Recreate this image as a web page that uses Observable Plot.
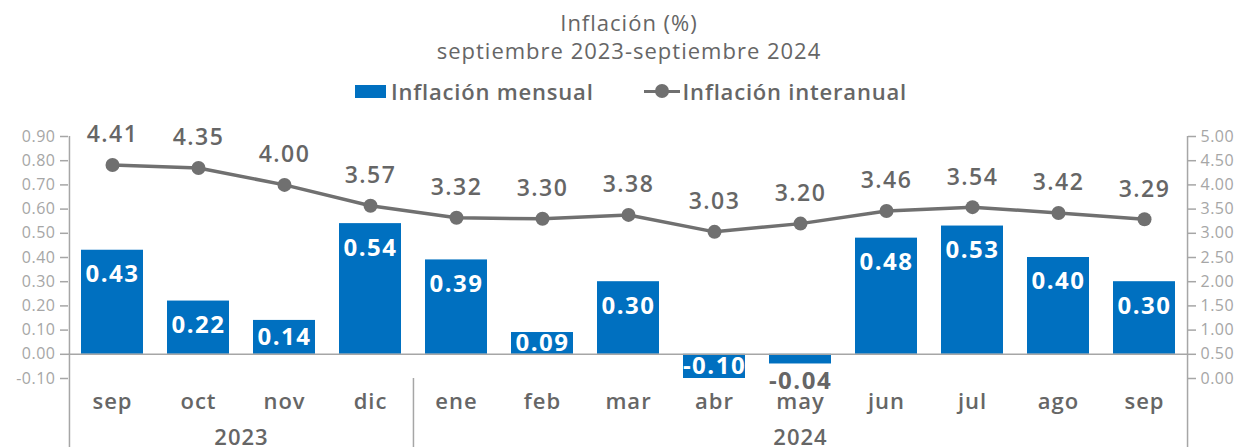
<!DOCTYPE html>
<html>
<head>
<meta charset="utf-8">
<script src="https://cdn.jsdelivr.net/npm/d3@7"></script>
<script src="https://cdn.jsdelivr.net/npm/@observablehq/plot@0.6"></script>
<style>
  body { margin: 0; background: #fff; font-family: "Open Sans", sans-serif; color: #666; }
  #wrap { width: 1244px; height: 447px; overflow: hidden; }
  .title { text-align: center; font-size: 22px; line-height: 28px; padding-left: 14px; letter-spacing: 1px; }
  .t1 { padding-top: 8px; }
  .legend { display: flex; justify-content: center; align-items: center; margin-top: 13px; height: 28px; font-size: 22px; font-weight: 600; padding-left: 18px; letter-spacing: 0.8px; }
  .sw-bar { width: 31px; height: 13px; background: #0070C0; margin-right: 5px; }
  .sw-line { position: relative; width: 36px; height: 14px; margin-left: 50px; margin-right: 3px; }
  .sw-line::before { content: ""; position: absolute; left: 0; right: 0; top: 5.5px; height: 3.5px; background: #707070; }
  .sw-line::after { content: ""; position: absolute; left: 11px; top: 0; width: 14px; height: 14px; border-radius: 50%; background: #707070; }
  svg { display: block; margin-top: 5px; }
  .lbl-line text { letter-spacing: 1.5px; }
  .lbl-bar text { letter-spacing: 1.5px; }
  .ax-x text { letter-spacing: 1px; }
  .ax-y text { letter-spacing: 0.5px; }
</style>
</head>
<body>
<div id="wrap">
  <div class="title t1">Inflación (%)</div>
  <div class="title">septiembre 2023-septiembre 2024</div>
  <div class="legend"><div class="sw-bar"></div><span>Inflación mensual</span><div class="sw-line"></div><span>Inflación interanual</span></div>
  <div id="chart"></div>
</div>
<script>
const months = ["sep","oct","nov","dic","ene","feb","mar","abr","may","jun","jul","ago","sep"];
const years = [2023,2023,2023,2023,2024,2024,2024,2024,2024,2024,2024,2024,2024];
const mensual = [0.43,0.22,0.14,0.54,0.39,0.09,0.30,-0.10,-0.04,0.48,0.53,0.40,0.30];
const interanual = [4.41,4.35,4.00,3.57,3.32,3.30,3.38,3.03,3.20,3.46,3.54,3.42,3.29];
const leftTicks = [-0.1,0,0.1,0.2,0.3,0.4,0.5,0.6,0.7,0.8,0.9];
const leftTickLabels = ["-0.10","0.00","0.10","0.20","0.30","0.40","0.50","0.60","0.70","0.80","0.90"];
const rightTickLabels = ["0.00","0.50","1.00","1.50","2.00","2.50","3.00","3.50","4.00","4.50","5.00"];
const yearLabels = ["2023","2024"];

const keys = months.map((m,i) => m + "-" + years[i]);
const data = keys.map((k,i) => ({key: k, month: months[i], mensual: mensual[i], interanual: interanual[i]}));

const W = 1244, H = 337, mL = 68, mR = 57, mT = 26, mB = 69;
const step = (W - mL - mR) / keys.length;
// right axis (0..5) shares the frame with left axis (-0.1..0.9)
const toLeft = r => r / 5 - 0.1;
const bottomY = -0.1 - mB / ((H - mT - mB) / 1.0);

const inside = data.filter(d => !(d.mensual < 0 && d.mensual > -0.05));
const outside = data.filter(d => d.mensual < 0 && d.mensual > -0.05);
const labelY = d => d.mensual >= 0 ? Math.max(d.mensual - 0.1, d.mensual / 2) : d.mensual / 2;

const gray = "#666666", light = "#a6a6a6";
const chart = Plot.plot({
  width: W, height: H, marginTop: mT, marginBottom: mB, marginLeft: mL, marginRight: mR,
  style: {fontFamily: "'Open Sans', sans-serif", background: "white", overflow: "visible"},
  x: {domain: keys, paddingInner: 0.28, paddingOuter: 0.14, label: null},
  y: {domain: [-0.1, 0.9], label: null},
  marks: [
    Plot.barY(data, {x: "key", y: "mensual", fill: "#0070C0"}),
    Plot.ruleY([0], {stroke: light, strokeWidth: 1.5}),
    Plot.ruleX([keys[0]], {x: d => d, dx: -step / 2, y1: 0.9, y2: bottomY, stroke: light, strokeWidth: 1.5}),
    Plot.ruleX([keys[keys.length - 1]], {x: d => d, dx: step / 2, y1: 0.9, y2: bottomY, stroke: light, strokeWidth: 1.5}),
    Plot.ruleX(["ene-2024"], {x: d => d, dx: -step / 2, y1: -0.1, y2: bottomY, stroke: light, strokeWidth: 1.5}),
    Plot.axisY({anchor: "left", label: null, className: "ax-y", ticks: leftTicks, tickFormat: (d, i) => leftTickLabels[i], tickSize: 8, tickPadding: 5, fontSize: 16, color: light, strokeWidth: 1.5}),
    Plot.axisY({anchor: "right", label: null, className: "ax-y", ticks: leftTicks, tickFormat: (d, i) => rightTickLabels[i], tickSize: 8, tickPadding: 5, fontSize: 16, color: light, strokeWidth: 1.5}),
    Plot.axisX({label: null, className: "ax-x", tickSize: 0, tickPadding: 15, fontSize: 22, fontWeight: 600, color: gray, tickFormat: k => k.split("-")[0]}),
    Plot.text([yearLabels[0]], {x: () => "nov-2023", text: d => d, dx: -step / 2, frameAnchor: "bottom", dy: 66, fontSize: 22, fontWeight: 600, fill: gray, className: "ax-x"}),
    Plot.text([yearLabels[1]], {x: () => "may-2024", text: d => d, frameAnchor: "bottom", dy: 66, fontSize: 22, fontWeight: 600, fill: gray, className: "ax-x"}),
    Plot.line(data, {x: "key", y: d => toLeft(d.interanual), stroke: "#707070", strokeWidth: 3.5}),
    Plot.dot(data, {x: "key", y: d => toLeft(d.interanual), r: 7, fill: "#707070"}),
    Plot.text(data, {x: "key", y: d => toLeft(d.interanual), text: d => d.interanual.toFixed(2), dy: -30, fontSize: 23, fontWeight: 600, fill: gray, className: "lbl-line"}),
    Plot.text(inside, {x: "key", y: labelY, text: d => d.mensual.toFixed(2), fill: "white", fontSize: 24, fontWeight: 700, className: "lbl-bar"}),
    Plot.text(outside, {x: "key", y: "mensual", text: d => d.mensual.toFixed(2), dy: 17, fill: gray, fontSize: 24, fontWeight: 700, className: "lbl-bar"})
  ]
});
document.getElementById("chart").appendChild(chart);
</script>
</body>
</html>
